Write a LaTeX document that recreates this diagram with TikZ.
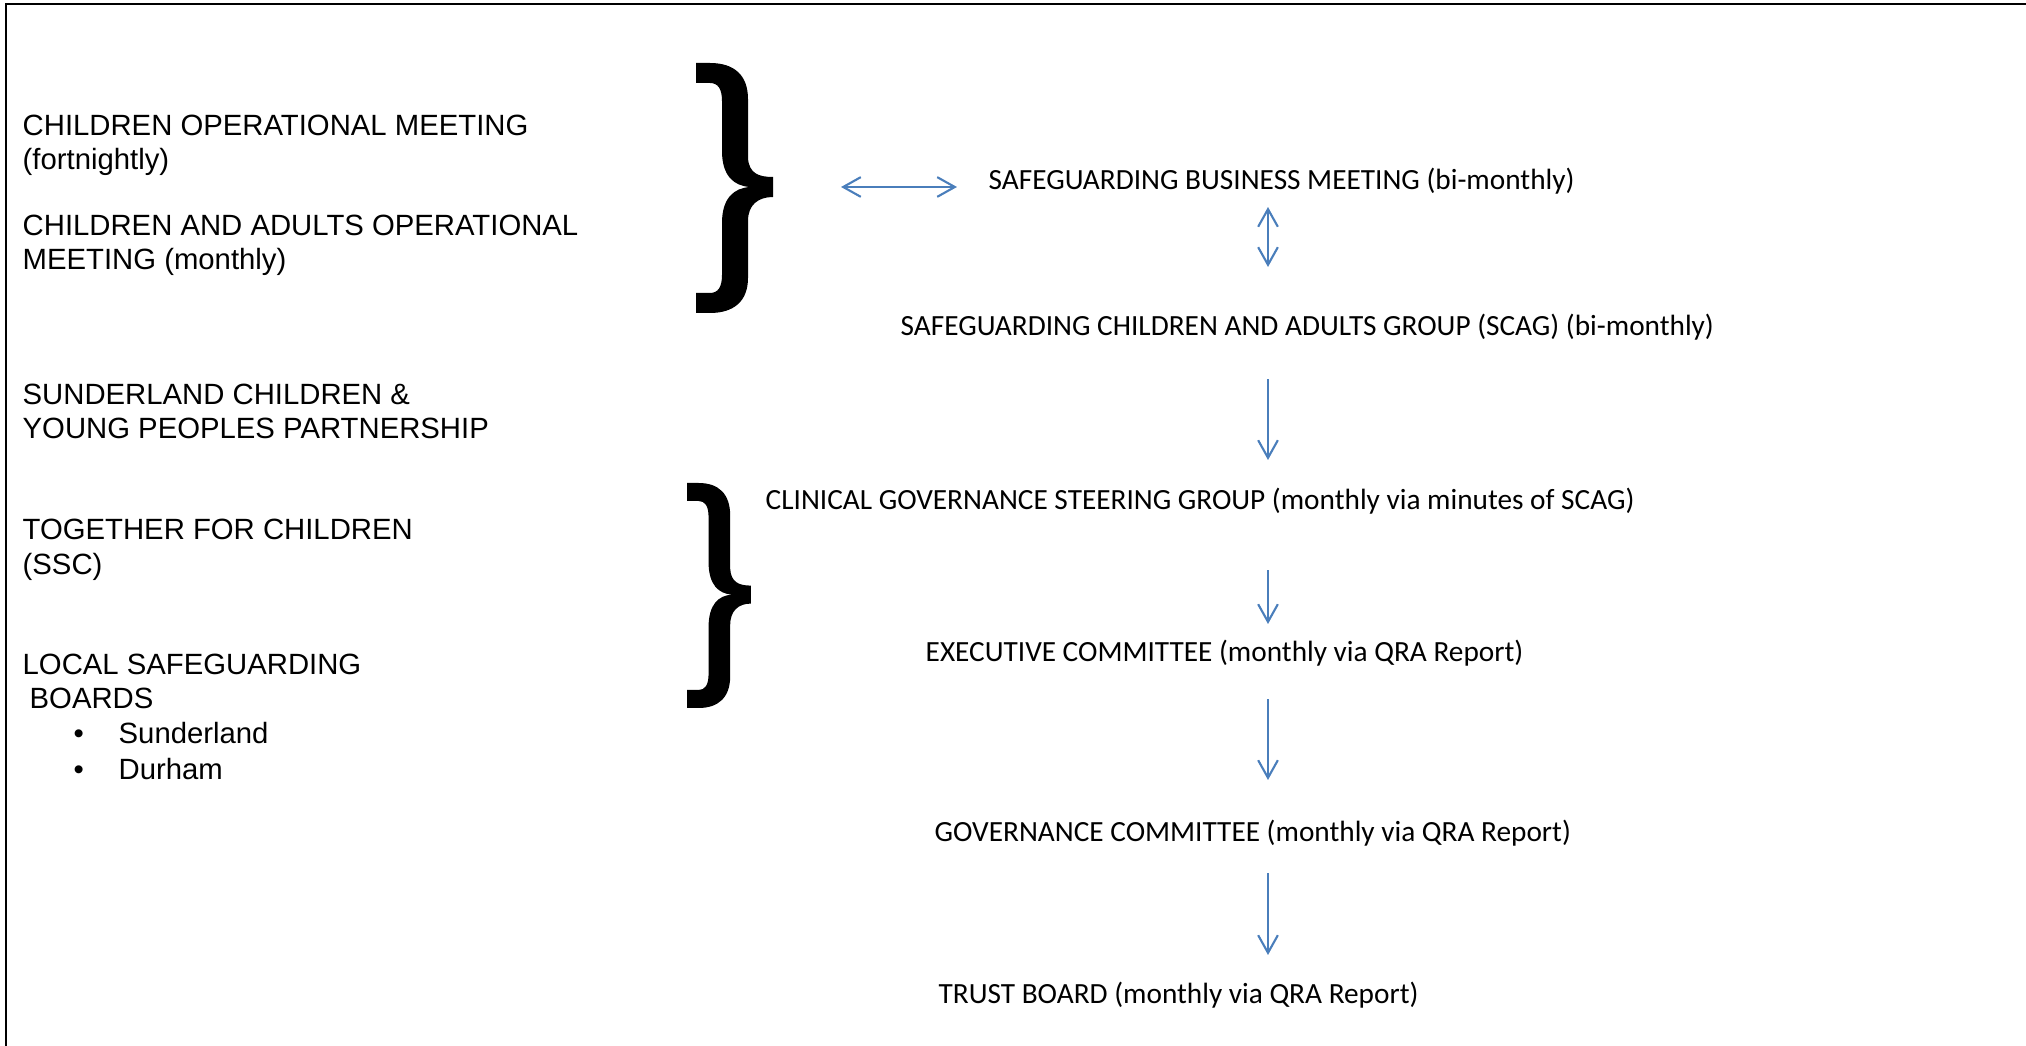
\documentclass[tikz,border=0pt]{standalone}
\usepackage{fontspec}
\newfontfamily\arialfont{Liberation Sans}
\newfontfamily\calibrifont{Carlito}
\usetikzlibrary{arrows.meta}

\definecolor{linkblue}{HTML}{4A7EBB}

\tikzset{
  lefttext/.style={anchor=base west, inner sep=0pt, font=\arialfont\fontsize{8.33}{10}\selectfont},
  righttext/.style={anchor=base west, inner sep=0pt, font=\calibrifont\fontsize{8.33}{10}\selectfont},
  barb/.tip={Straight Barb[length=5pt,width=5.6pt]},
  link/.style={draw=linkblue, line width=0.6pt, -barb},
  twoway/.style={link, barb-barb},
  curly/.pic={
    \fill (0,0) -- (14,0) .. controls (38,0) and (52,12) .. (52,36) -- (52,95)
      .. controls (53,110) and (62,114) .. (77,114) -- (77,134)
      .. controls (62,134) and (52,142) .. (52,158) -- (52,215)
      .. controls (52,238) and (38,250) .. (14,250) -- (0,250) -- (0,230) -- (14,230)
      .. controls (22,230) and (26,224) .. (26,212) -- (26,160)
      .. controls (26,135) and (38,125) .. (54,124)
      .. controls (38,123) and (26,113) .. (26,88) -- (26,38)
      .. controls (26,26) and (22,20) .. (14,20) -- (0,20) -- cycle;
  }
}

\begin{document}
\begin{tikzpicture}[x=0.01cm, y=-0.01cm]
  \useasboundingbox (0,0) rectangle (2026,1046);
  \draw[line width=0.8pt] (6,1046) -- (6,4) -- (2026,4);

  % groups on the left
  \def \LeftLines {
    co1/22/136/{CHILDREN OPERATIONAL MEETING},
    co2/22/170/{(fortnightly)},
    cao1/22/236/{CHILDREN AND ADULTS OPERATIONAL},
    cao2/22/270/{MEETING (monthly)},
    scp1/22/405/{SUNDERLAND CHILDREN \&},
    scp2/22/439/{YOUNG PEOPLES PARTNERSHIP},
    tfc1/22/540/{TOGETHER FOR CHILDREN},
    tfc2/22/575/{(SSC)},
    lsb1/22/675/{LOCAL SAFEGUARDING},
    lsb2/29/709/{BOARDS},
    lsb3/73/744/{\textbullet},
    lsb4/118/744/{Sunderland},
    lsb5/73/780/{\textbullet},
    lsb6/118/780/{Durham}}
  \foreach \id / \x / \y / \txt in \LeftLines {
    \node[lefttext] (\id) at (\x, \y) {\txt};
  }

  % reporting chain
  \def \Chain {
    sbm/988/190/{SAFEGUARDING BUSINESS MEETING (bi-monthly)},
    scag/900/336/{SAFEGUARDING CHILDREN AND ADULTS GROUP (SCAG) (bi-monthly)},
    cgsg/765/510/{CLINICAL GOVERNANCE STEERING GROUP (monthly via minutes of SCAG)},
    exec/925/662/{EXECUTIVE COMMITTEE (monthly via QRA Report)},
    gov/934/842/{GOVERNANCE COMMITTEE (monthly via QRA Report)},
    trust/938/1004/{TRUST BOARD (monthly via QRA Report)}}
  \foreach \id / \x / \y / \txt in \Chain {
    \node[righttext] (\id) at (\x, \y) {\txt};
  }

  % braces
  \pic at (696,63) {curly};
  \pic[xscale=0.83, yscale=0.9] at (687,483) {curly};
  \coordinate (tip) at (773,187);
  \coordinate (spine) at (1268,0);

  \draw[twoway, shorten <=6.8mm, shorten >=3.1mm] (tip) -- (tip -| sbm.west);
  \draw[twoway, shorten <=1.7mm, shorten >=6.9mm] (sbm.base -| spine) -- (scag.base -| spine);
  \foreach \a / \b / \s / \e in {scag/cgsg/4.3/5.0, cgsg/exec/6.0/3.8,
                                 exec/gov/3.7/6.2, gov/trust/3.1/4.9} {
    \draw[link, shorten <=\s mm, shorten >=\e mm] (\a.base -| spine) -- (\b.base -| spine);
  }
\end{tikzpicture}
\end{document}
